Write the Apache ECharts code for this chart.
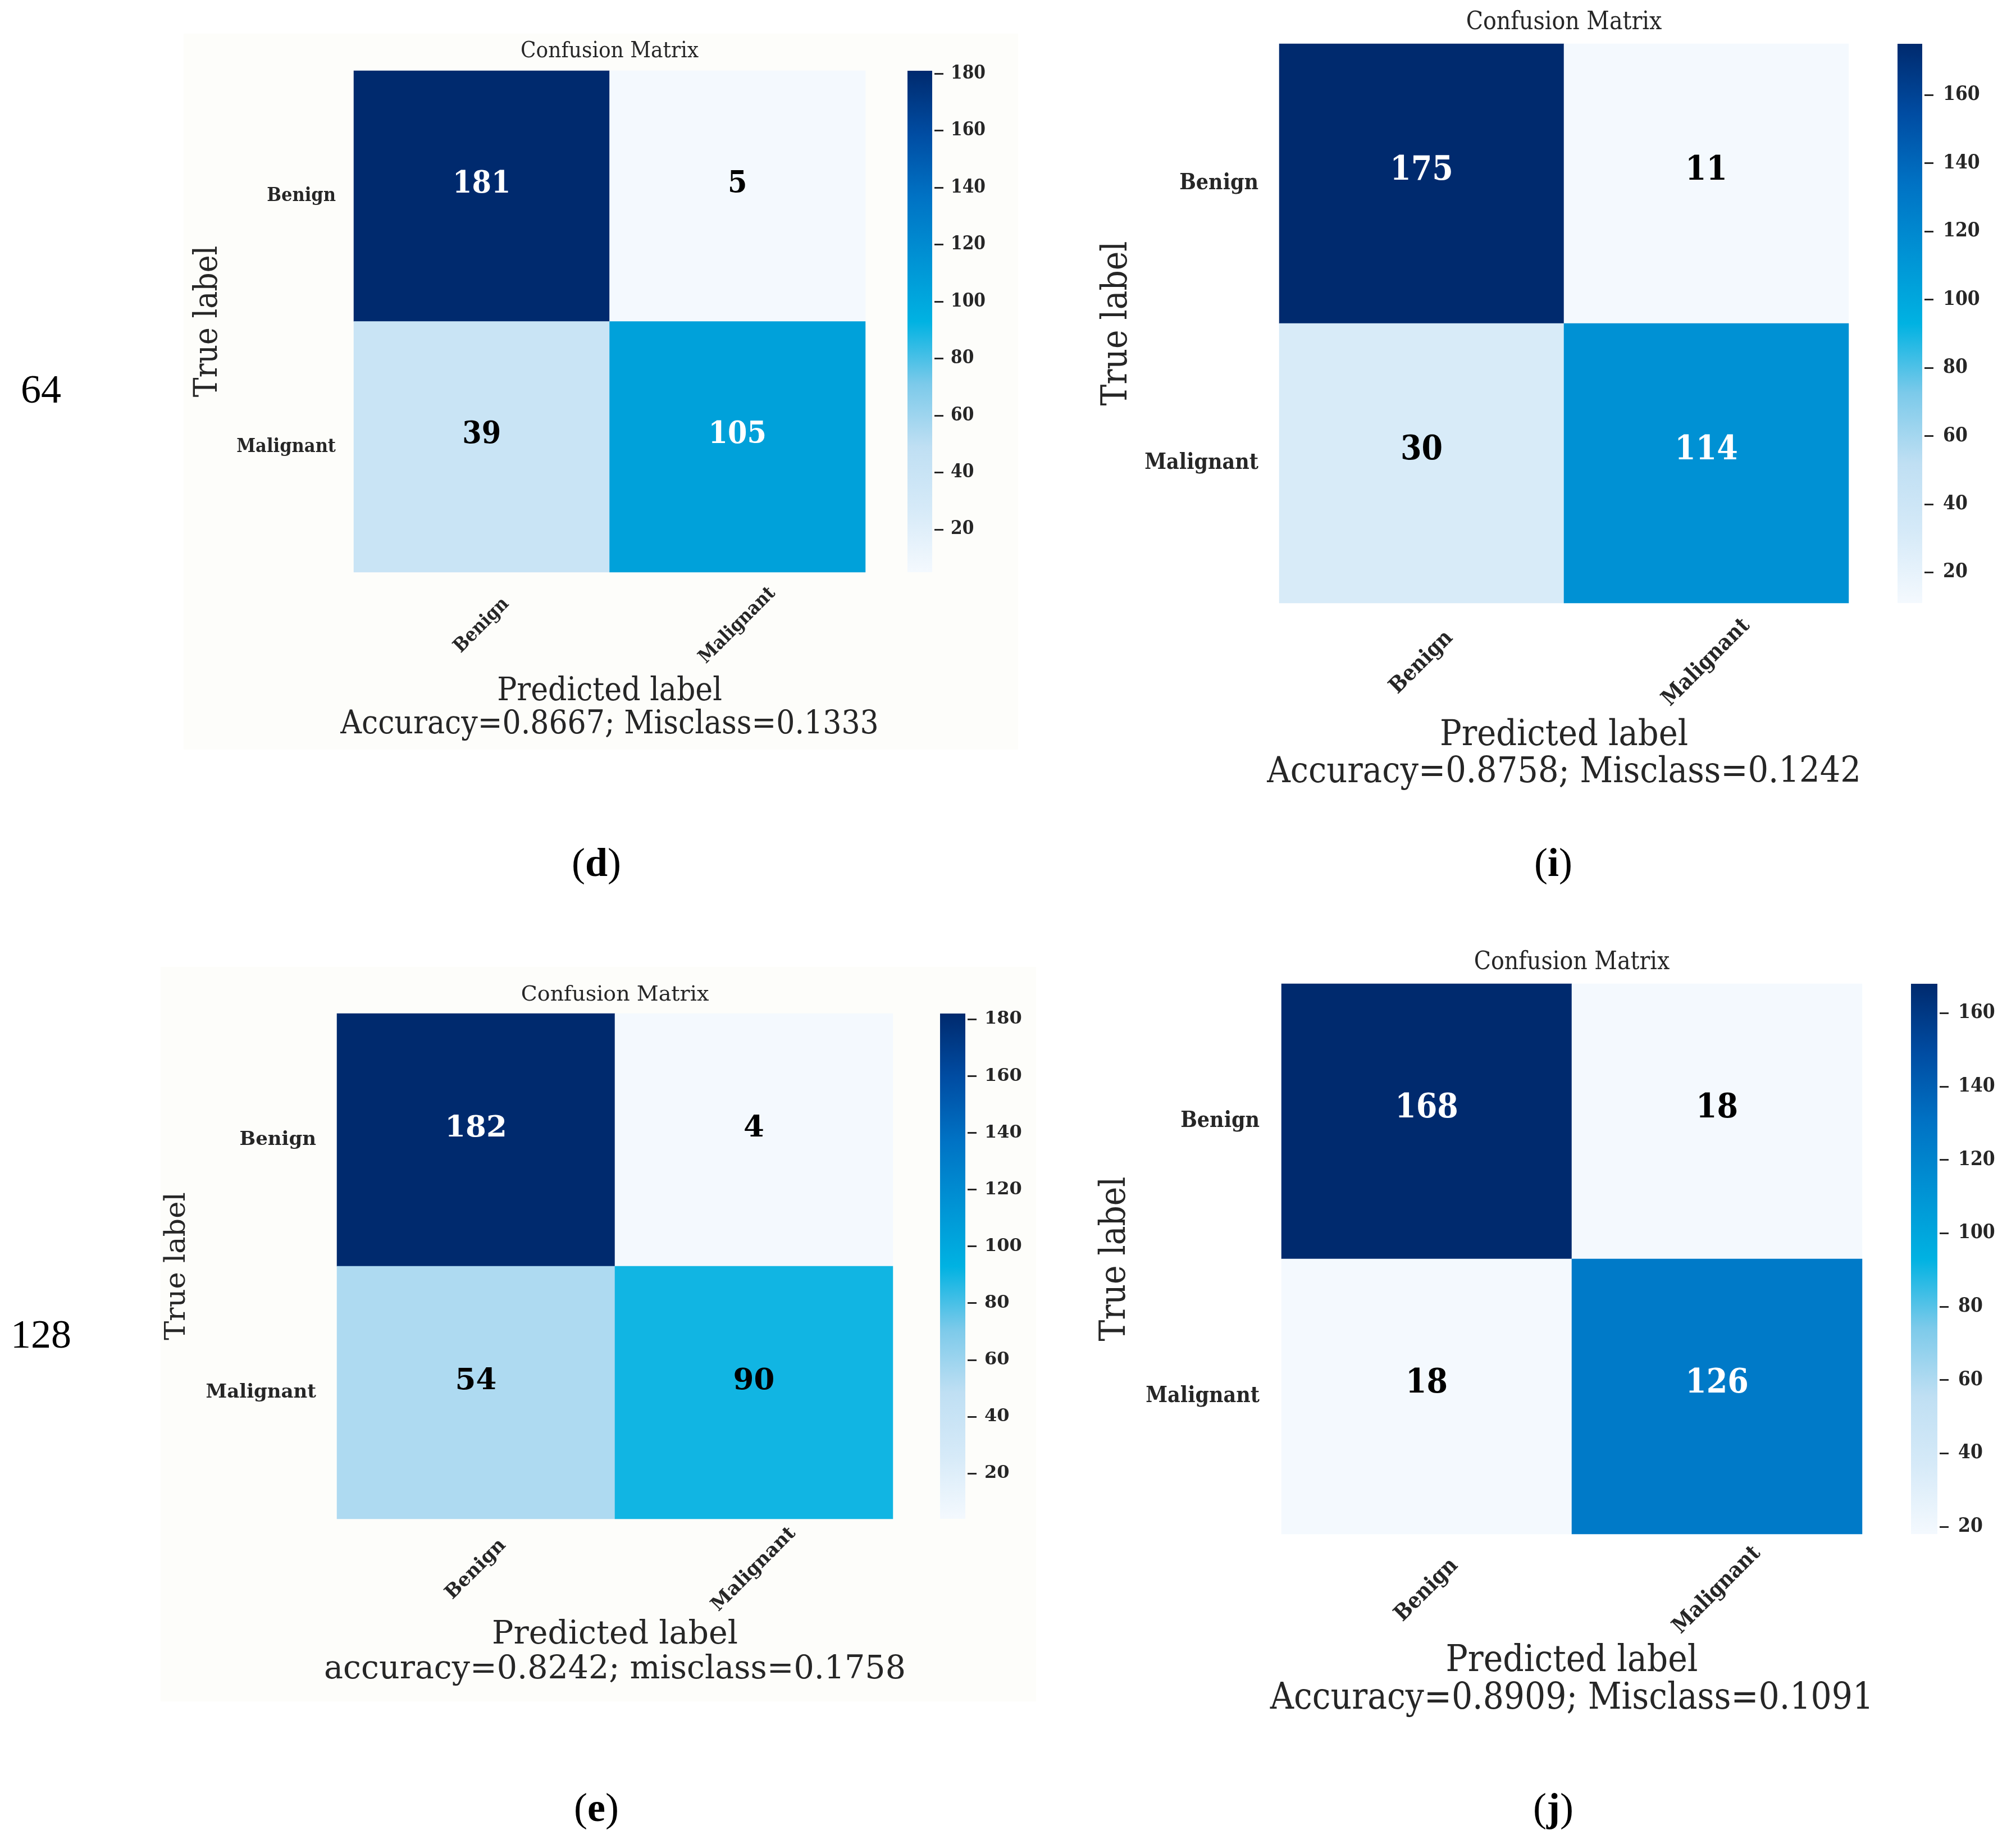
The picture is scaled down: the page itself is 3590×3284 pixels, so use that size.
<!DOCTYPE html>
<html>
<head>
<meta charset="utf-8">
<script src="https://cdn.jsdelivr.net/npm/echarts@6/dist/echarts.min.js"></script>
<style>
html,body{margin:0;padding:0;background:#fff}
#main{width:3590px;height:3284px}
</style>
</head>
<body>
<div id="main"></div>
<script>
// 类别
var classNames = ['Benign', 'Malignant'];
// 混淆矩阵 (行 = 真实, 列 = 预测)
var cmD = [[181, 5], [39, 105]];
var cmI = [[175, 11], [30, 114]];
var cmE = [[182, 4], [54, 90]];
var cmJ = [[168, 18], [18, 126]];
// 准确率文字
var accD = 'Accuracy=0.8667; Misclass=0.1333';
var accI = 'Accuracy=0.8758; Misclass=0.1242';
var accE = 'accuracy=0.8242; misclass=0.1758';
var accJ = 'Accuracy=0.8909; Misclass=0.1091';
// 色标刻度
var cbTicksD = [20, 40, 60, 80, 100, 120, 140, 160, 180];
var cbTicksI = [20, 40, 60, 80, 100, 120, 140, 160];
var cbTicksE = [20, 40, 60, 80, 100, 120, 140, 160, 180];
var cbTicksJ = [20, 40, 60, 80, 100, 120, 140, 160];
// 子图标签
var panelTags = ['d', 'i', 'e', 'j'];
var rowTags = ['64', '128'];

var SERIF = '"DejaVu Serif"';
var SERIF_C = '"DejaVu Serif Condensed", "DejaVu Serif"';
var TXT = '#262626';
// 色带 (低 -> 高)
var blues = ['#f4f9fe', '#d6eaf8', '#bfdff3', '#7ccaea', '#00b2e2', '#0092d4', '#0072c4', '#004ca2', '#002a6e'];

// 布局 (像素)
var panels = [
    {cm: cmD, acc: accD, ticks: cbTicksD, tag: panelTags[0], font: SERIF_C, grid: [630, 126, 911, 893], cb: [1616, 44], titleY: 92, titleSize: 40,
     tick: 34, yMargin: 32, xMargin: 95, xName: 58, lineH: 59, xGap: 242, yName: 58, yGap: 259, num: 55, numDy: -21, cbLabel: 33, cbMargin: 29},
    {cm: cmI, acc: accI, ticks: cbTicksI, tag: panelTags[1], font: SERIF_C, grid: [2278, 78, 1014, 996], cb: [3379, 44], titleY: 41, titleSize: 44,
     tick: 39, yMargin: 37, xMargin: 106, xName: 64, lineH: 66, xGap: 269, yName: 63, yGap: 288, num: 60, numDy: -23, cbLabel: 35, cbMargin: 33},
    {cm: cmE, acc: accE, ticks: cbTicksE, tag: panelTags[2], font: SERIF, grid: [600, 1805, 990, 900], cb: [1674, 45], titleY: 1772, titleSize: 38,
     tick: 34, yMargin: 37, xMargin: 90, xName: 57, lineH: 62, xGap: 238, yName: 51, yGap: 284, num: 53, numDy: -20, cbLabel: 32, cbMargin: 30},
    {cm: cmJ, acc: accJ, ticks: cbTicksJ, tag: panelTags[3], font: SERIF_C, grid: [2282, 1752, 1034, 980], cb: [3403, 47], titleY: 1715, titleSize: 44,
     tick: 39, yMargin: 39, xMargin: 100, xName: 65, lineH: 67, xGap: 261, yName: 63, yGap: 295, num: 60, numDy: -23, cbLabel: 35, cbMargin: 33}
];
var tagPos = [[1062, 1541], [2766, 1541], [1062, 3224], [2766, 3224]];
var rowTagPos = [[73, 698], [73, 2381]];

var myChart = echarts.init(document.getElementById('main'));

var grid = [], xAxis = [], yAxis = [], series = [], visualMap = [], graphic = [];

// 背景
graphic.push({type: 'rect', shape: {x: 327, y: 60, width: 1486, height: 1275}, style: {fill: '#fdfdfa'}, z: -10});
graphic.push({type: 'rect', shape: {x: 286, y: 1722, width: 1559, height: 1308}, style: {fill: '#fdfdfa'}, z: -10});

var stops = [];
for (var s = 0; s < blues.length; s++) {
    stops.push({offset: s / (blues.length - 1), color: blues[blues.length - 1 - s]});
}

panels.forEach(function (p, k) {
    var flat = [].concat(p.cm[0], p.cm[1]);
    var vmin = Math.min.apply(null, flat);
    var vmax = Math.max.apply(null, flat);
    var g = p.grid;

    // 热力图
    grid.push({left: g[0], top: g[1], width: g[2], height: g[3], outerBoundsMode: 'none', containLabel: false});
    xAxis.push({
        type: 'category', gridIndex: 2 * k, data: classNames,
        axisLine: {show: false}, axisTick: {show: false}, splitLine: {show: false},
        axisLabel: {interval: 0, rotate: 45, align: 'center', verticalAlign: 'middle', margin: p.xMargin,
            fontFamily: p.font, fontWeight: 'bold', fontSize: p.tick, color: TXT},
        name: 'Predicted label\n' + p.acc, nameLocation: 'middle', nameGap: p.xGap,
        nameTextStyle: {fontFamily: p.font, fontSize: p.xName, lineHeight: p.lineH, color: TXT, align: 'center', verticalAlign: 'middle'}
    });
    yAxis.push({
        type: 'category', gridIndex: 2 * k, data: classNames, inverse: true,
        axisLine: {show: false}, axisTick: {show: false}, splitLine: {show: false},
        axisLabel: {interval: 0, margin: p.yMargin, fontFamily: p.font, fontWeight: 'bold', fontSize: p.tick, color: TXT},
        name: 'True label', nameLocation: 'middle', nameRotate: 90, nameGap: p.yGap,
        nameTextStyle: {fontFamily: p.font, fontSize: p.yName, color: TXT, align: 'center', verticalAlign: 'middle'}
    });
    var cells = [];
    for (var r = 0; r < 2; r++) {
        for (var c = 0; c < 2; c++) {
            var v = p.cm[r][c];
            cells.push({value: [c, r, v], label: {color: v > vmax / 2 ? '#ffffff' : '#000000'}});
        }
    }
    visualMap.push({type: 'continuous', show: false, seriesIndex: series.length, min: vmin, max: vmax, inRange: {color: blues}});
    series.push({
        type: 'heatmap', xAxisIndex: 2 * k, yAxisIndex: 2 * k, data: cells,
        itemStyle: {borderWidth: 0},
        label: {show: true, fontFamily: p.font, fontWeight: 'bold', fontSize: p.num, offset: [0, p.numDy]},
        emphasis: {disabled: true}
    });

    // 色标
    grid.push({left: p.cb[0], top: g[1], width: p.cb[1], height: g[3], outerBoundsMode: 'none', containLabel: false});
    xAxis.push({type: 'category', gridIndex: 2 * k + 1, data: [''], show: false});
    yAxis.push({
        type: 'value', gridIndex: 2 * k + 1, min: vmin, max: vmax, position: 'right', offset: 4,
        axisLine: {show: false}, splitLine: {show: false},
        axisTick: {show: true, length: 16, lineStyle: {color: TXT, width: 3}, customValues: p.ticks},
        axisLabel: {customValues: p.ticks, margin: p.cbMargin, fontFamily: p.font, fontWeight: 'bold', fontSize: p.cbLabel, color: TXT}
    });
    series.push({
        type: 'bar', xAxisIndex: 2 * k + 1, yAxisIndex: 2 * k + 1, data: [vmax], barWidth: '100%',
        itemStyle: {color: new echarts.graphic.LinearGradient(0, 0, 0, 1, stops)},
        emphasis: {disabled: true}, silent: true
    });

    // 标题
    graphic.push({
        type: 'text', x: g[0] + g[2] / 2, y: p.titleY,
        style: {text: 'Confusion Matrix', fill: TXT, font: p.titleSize + 'px ' + p.font, textAlign: 'center', textVerticalAlign: 'middle'}
    });
    // (d) (i) (e) (j)
    graphic.push({
        type: 'text', x: tagPos[k][0], y: tagPos[k][1],
        style: {
            text: '{p|(}{b|' + p.tag + '}{p|)}', textAlign: 'center', textVerticalAlign: 'middle',
            rich: {
                p: {fontFamily: 'Liberation Serif', fontSize: 72, color: '#000'},
                b: {fontFamily: 'Liberation Serif', fontSize: 72, fontWeight: 'bold', color: '#000'}
            }
        }
    });
});

rowTags.forEach(function (t, k) {
    graphic.push({
        type: 'text', x: rowTagPos[k][0], y: rowTagPos[k][1],
        style: {text: t, fill: '#000', font: '72px "Liberation Serif"', textAlign: 'center', textVerticalAlign: 'middle'}
    });
});

option = {
    backgroundColor: '#ffffff',
    animation: false,
    grid: grid,
    xAxis: xAxis,
    yAxis: yAxis,
    visualMap: visualMap,
    series: series,
    graphic: graphic
};
myChart.setOption(option);
</script>
</body>
</html>
